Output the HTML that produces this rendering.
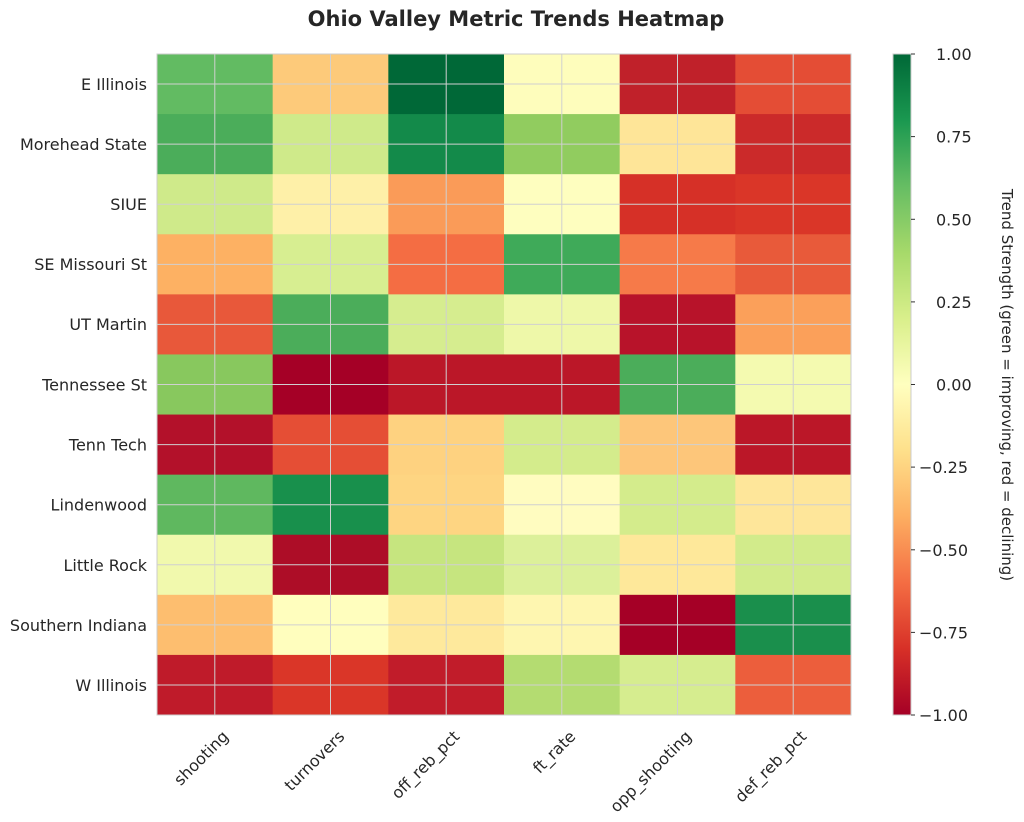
<!DOCTYPE html>
<html><head><meta charset="utf-8"><style>body{margin:0;background:#fff}svg{display:block}text{font-family:"DejaVu Sans","Liberation Sans",sans-serif;fill:#262626}</style></head><body>
<svg width="1024" height="822" viewBox="0 0 1024 822" xmlns="http://www.w3.org/2000/svg">
<defs><linearGradient id="cb" x1="0" y1="1" x2="0" y2="0">
<stop offset="0" stop-color="#a50026"/><stop offset="0.1" stop-color="#d73027"/><stop offset="0.2" stop-color="#f46d43"/><stop offset="0.3" stop-color="#fdae61"/><stop offset="0.4" stop-color="#fee08b"/><stop offset="0.5" stop-color="#ffffbf"/><stop offset="0.6" stop-color="#d9ef8b"/><stop offset="0.7" stop-color="#a6d96a"/><stop offset="0.8" stop-color="#66bd63"/><stop offset="0.9" stop-color="#1a9850"/><stop offset="1" stop-color="#006837"/></linearGradient></defs>
<text x="516" y="26" text-anchor="middle" font-size="21" font-weight="bold">Ohio Valley Metric Trends Heatmap</text>

<g transform="translate(0,54)"><rect x="157" width="116" height="61" fill="#62bb62"/><rect x="272.67" width="116" height="61" fill="#fdca7a"/><rect x="388.33" width="116" height="61" fill="#006837"/><rect x="504" width="116" height="61" fill="#fefdbc"/><rect x="619.67" width="116" height="61" fill="#c0212a"/><rect x="735.33" width="115.67" height="61" fill="#e44d35"/></g>
<g transform="translate(0,114.09)"><rect x="157" width="116" height="61" fill="#4bad5a"/><rect x="272.67" width="116" height="61" fill="#cfea8a"/><rect x="388.33" width="116" height="61" fill="#138a4a"/><rect x="504" width="116" height="61" fill="#91cc5f"/><rect x="619.67" width="116" height="61" fill="#fee598"/><rect x="735.33" width="115.67" height="61" fill="#cb2a2a"/></g>
<g transform="translate(0,174.18)"><rect x="157" width="116" height="61" fill="#cfea8a"/><rect x="272.67" width="116" height="61" fill="#fef0a8"/><rect x="388.33" width="116" height="61" fill="#fa9b58"/><rect x="504" width="116" height="61" fill="#fefebf"/><rect x="619.67" width="116" height="61" fill="#d63027"/><rect x="735.33" width="115.67" height="61" fill="#da3628"/></g>
<g transform="translate(0,234.27)"><rect x="157" width="116" height="61" fill="#fdb163"/><rect x="272.67" width="116" height="61" fill="#d7ee91"/><rect x="388.33" width="116" height="61" fill="#f46d43"/><rect x="504" width="116" height="61" fill="#3faa59"/><rect x="619.67" width="116" height="61" fill="#f67a49"/><rect x="735.33" width="115.67" height="61" fill="#e85a3a"/></g>
<g transform="translate(0,294.36)"><rect x="157" width="116" height="61" fill="#e8583a"/><rect x="272.67" width="116" height="61" fill="#4bad5a"/><rect x="388.33" width="116" height="61" fill="#d6ed8f"/><rect x="504" width="116" height="61" fill="#eef8a9"/><rect x="619.67" width="116" height="61" fill="#b8132a"/><rect x="735.33" width="115.67" height="61" fill="#fba05a"/></g>
<g transform="translate(0,354.45)"><rect x="157" width="116" height="61" fill="#88c85e"/><rect x="272.67" width="116" height="61" fill="#a50026"/><rect x="388.33" width="116" height="61" fill="#bb1728"/><rect x="504" width="116" height="61" fill="#bb1728"/><rect x="619.67" width="116" height="61" fill="#4bad5a"/><rect x="735.33" width="115.67" height="61" fill="#f4fab0"/></g>
<g transform="translate(0,414.55)"><rect x="157" width="116" height="61" fill="#b3112a"/><rect x="272.67" width="116" height="61" fill="#e54e35"/><rect x="388.33" width="116" height="61" fill="#fed280"/><rect x="504" width="116" height="61" fill="#d4ec8c"/><rect x="619.67" width="116" height="61" fill="#fdc67a"/><rect x="735.33" width="115.67" height="61" fill="#bb1728"/></g>
<g transform="translate(0,474.64)"><rect x="157" width="116" height="61" fill="#5fb85f"/><rect x="272.67" width="116" height="61" fill="#18904c"/><rect x="388.33" width="116" height="61" fill="#fed582"/><rect x="504" width="116" height="61" fill="#fffcc0"/><rect x="619.67" width="116" height="61" fill="#d4ec8c"/><rect x="735.33" width="115.67" height="61" fill="#fee69a"/></g>
<g transform="translate(0,534.73)"><rect x="157" width="116" height="61" fill="#f1f9ad"/><rect x="272.67" width="116" height="61" fill="#ad0d27"/><rect x="388.33" width="116" height="61" fill="#c6e57f"/><rect x="504" width="116" height="61" fill="#dcf09a"/><rect x="619.67" width="116" height="61" fill="#fee89a"/><rect x="735.33" width="115.67" height="61" fill="#d2eb8b"/></g>
<g transform="translate(0,594.82)"><rect x="157" width="116" height="61" fill="#fdbe6f"/><rect x="272.67" width="116" height="61" fill="#fffebe"/><rect x="388.33" width="116" height="61" fill="#fee99c"/><rect x="504" width="116" height="61" fill="#fef6b0"/><rect x="619.67" width="116" height="61" fill="#a50026"/><rect x="735.33" width="115.67" height="61" fill="#1a8f4c"/></g>
<g transform="translate(0,654.91)"><rect x="157" width="116" height="60.09" fill="#bf1b2a"/><rect x="272.67" width="116" height="60.09" fill="#da3628"/><rect x="388.33" width="116" height="60.09" fill="#c11c2a"/><rect x="504" width="116" height="60.09" fill="#b4dc71"/><rect x="619.67" width="116" height="60.09" fill="#d6ed8f"/><rect x="735.33" width="115.67" height="60.09" fill="#ec5e3c"/></g>

<g stroke="#d0d0d0" stroke-width="1">
<line x1="214.8" y1="54" x2="214.8" y2="715"/><line x1="330.5" y1="54" x2="330.5" y2="715"/><line x1="446.2" y1="54" x2="446.2" y2="715"/><line x1="561.8" y1="54" x2="561.8" y2="715"/><line x1="677.5" y1="54" x2="677.5" y2="715"/><line x1="793.2" y1="54" x2="793.2" y2="715"/>
<line x1="157" y1="84.05" x2="851" y2="84.05"/><line x1="157" y1="144.14" x2="851" y2="144.14"/><line x1="157" y1="204.23" x2="851" y2="204.23"/><line x1="157" y1="264.32" x2="851" y2="264.32"/><line x1="157" y1="324.41" x2="851" y2="324.41"/><line x1="157" y1="384.5" x2="851" y2="384.5"/><line x1="157" y1="444.6" x2="851" y2="444.6"/><line x1="157" y1="504.69" x2="851" y2="504.69"/><line x1="157" y1="564.78" x2="851" y2="564.78"/><line x1="157" y1="624.87" x2="851" y2="624.87"/><line x1="157" y1="684.96" x2="851" y2="684.96"/>
</g>
<rect x="157" y="54" width="694" height="661" fill="none" stroke="#ccc"/>

<g font-size="16" text-anchor="end">
<text x="147" y="90">E Illinois</text><text x="147" y="150">Morehead State</text><text x="147" y="210">SIUE</text><text x="147" y="270">SE Missouri St</text><text x="147" y="330">UT Martin</text><text x="147" y="390.5">Tennessee St</text><text x="147" y="450.6">Tenn Tech</text><text x="147" y="510.7">Lindenwood</text><text x="147" y="570.8">Little Rock</text><text x="147" y="630.9">Southern Indiana</text><text x="147" y="691">W Illinois</text>
<text transform="translate(221,729) rotate(-45)" dy="0.75em">shooting</text>
<text transform="translate(337,729) rotate(-45)" dy="0.75em">turnovers</text>
<text transform="translate(452,729) rotate(-45)" dy="0.75em">off_reb_pct</text>
<text transform="translate(568,729) rotate(-45)" dy="0.75em">ft_rate</text>
<text transform="translate(684,729) rotate(-45)" dy="0.75em">opp_shooting</text>
<text transform="translate(799,729) rotate(-45)" dy="0.75em">def_reb_pct</text>
</g>

<rect x="893" y="54" width="18" height="661" fill="url(#cb)" stroke="#ccc"/>
<g stroke="#333"><line x1="911" y1="54" x2="915" y2="54"/><line x1="911" y1="136.6" x2="915" y2="136.6"/><line x1="911" y1="219.3" x2="915" y2="219.3"/><line x1="911" y1="301.9" x2="915" y2="301.9"/><line x1="911" y1="384.5" x2="915" y2="384.5"/><line x1="911" y1="467.1" x2="915" y2="467.1"/><line x1="911" y1="549.8" x2="915" y2="549.8"/><line x1="911" y1="632.4" x2="915" y2="632.4"/><line x1="911" y1="715" x2="915" y2="715"/></g>
<g font-size="16">
<text x="936" y="60">1.00</text><text x="936" y="142.6">0.75</text><text x="936" y="225.3">0.50</text><text x="936" y="307.9">0.25</text><text x="936" y="390.5">0.00</text><text x="919" y="473.1">−0.25</text><text x="919" y="555.8">−0.50</text><text x="919" y="638.4">−0.75</text><text x="919" y="721">−1.00</text>
</g>
<text transform="translate(1002,385) rotate(90)" text-anchor="middle" font-size="15">Trend Strength (green = improving, red = declining)</text>
</svg></body></html>
